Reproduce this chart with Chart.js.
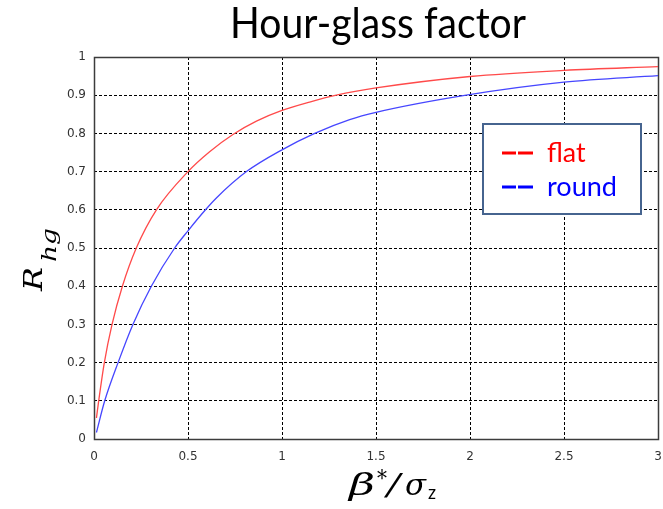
<!DOCTYPE html>
<html>
<head>
<meta charset="utf-8">
<script src="https://cdn.jsdelivr.net/npm/chart.js@4.4.1/dist/chart.umd.min.js"></script>
<style>
  html, body { margin: 0; padding: 0; background: #fff; }
  #wrap { width: 663px; height: 509px; }
</style>
</head>
<body>
<div id="wrap"><canvas id="c" width="663" height="509"></canvas></div>
<script>
// Hour-glass reduction factor versus beta*/sigma_z
const chartTitle = 'Hour-glass factor';
const seriesNames = ['flat', 'round'];

const flatX = [0.013, 0.025, 0.055, 0.096, 0.151, 0.225, 0.332, 0.5, 0.615, 0.739, 0.864, 1.0, 1.147, 1.289, 1.5, 2.0, 2.5, 3.0];
const flatY = [0.055, 0.10, 0.20, 0.30, 0.40, 0.50, 0.60, 0.70, 0.752, 0.797, 0.832, 0.860, 0.882, 0.90, 0.919, 0.949, 0.965, 0.975];

const roundX = [0.013, 0.057, 0.128, 0.207, 0.305, 0.429, 0.5, 0.593, 0.651, 0.811, 1.0, 1.174, 1.36, 1.5, 1.98, 2.5, 3.0];
const roundY = [0.017, 0.10, 0.20, 0.30, 0.40, 0.50, 0.545, 0.60, 0.631, 0.70, 0.757, 0.80, 0.836, 0.855, 0.90, 0.934, 0.951];

const xTicks = [0, 0.5, 1, 1.5, 2, 2.5, 3];
const yTicks = [0, 0.1, 0.2, 0.3, 0.4, 0.5, 0.6, 0.7, 0.8, 0.9, 1];

const toPoints = (xs, ys) => xs.map((x, i) => ({ x: x, y: ys[i] }));
const fmt = v => String(+Number(v).toFixed(2));

const lineColors = ['#ff4a4a', '#4646ff'];
const textColors = ['#ff0000', '#0000ff'];

// Draws a string stretched or squeezed along its baseline to a given width
function fitText(ctx, text, x, y, width) {
  const w = ctx.measureText(text).width;
  ctx.save();
  ctx.translate(x, y);
  ctx.scale(width / w, 1);
  ctx.fillText(text, 0, 0);
  ctx.restore();
}

const mathFont = (size) => `italic ${size}px "DejaVu Serif"`;

const decorations = {
  id: 'decorations',
  beforeDatasetsDraw(chart) {
    const { ctx, chartArea: a } = chart;
    ctx.save();
    ctx.strokeStyle = '#3c3c3c';
    ctx.lineWidth = 1.5;
    ctx.setLineDash([]);
    ctx.strokeRect(a.left + 0.5, a.top + 0.5, a.right - a.left, a.bottom - a.top);
    ctx.restore();
  },
  afterDraw(chart) {
    const { ctx } = chart;
    ctx.save();
    ctx.fillStyle = '#000';
    ctx.textBaseline = 'alphabetic';
    ctx.textAlign = 'left';

    // title
    ctx.font = '42px Lato';
    fitText(ctx, chartTitle, 230, 38, 296);

    // y axis title: R with subscript hg, rotated
    ctx.save();
    ctx.translate(42, 291);
    ctx.rotate(-Math.PI / 2);
    ctx.font = mathFont(26);
    fitText(ctx, 'R', 0, 0, 24);
    ctx.font = mathFont(21);
    fitText(ctx, 'hg', 29, 14, 34);
    ctx.restore();

    // x axis title: beta*/sigma_z
    const base = 495;
    ctx.font = mathFont(30);
    fitText(ctx, '\u03B2', 349, base, 26);
    ctx.font = '22px "DejaVu Serif"';
    fitText(ctx, '*', 377, base - 9, 10);
    ctx.font = mathFont(30);
    fitText(ctx, '/', 387, base, 13);
    fitText(ctx, '\u03C3', 405, base, 21);
    ctx.font = '19px Lato';
    fitText(ctx, 'z', 428, base + 4, 8);

    // legend box
    ctx.fillStyle = '#fff';
    ctx.fillRect(483, 124, 158, 90);
    ctx.strokeStyle = '#46648f';
    ctx.lineWidth = 2;
    ctx.strokeRect(483, 124, 158, 90);
    const rows = [153, 187];
    const widths = [38.6, 70];
    chart.data.datasets.forEach((ds, i) => {
      const y = rows[i];
      ctx.fillStyle = textColors[i];
      ctx.fillRect(502, y - 1.5, 14, 3);
      ctx.fillRect(518, y - 1.5, 15, 3);
      ctx.font = '27px Lato';
      fitText(ctx, ds.label, 547, y + 8.5, widths[i]);
    });
    ctx.restore();
  }
};

new Chart(document.getElementById('c'), {
  type: 'scatter',
  data: {
    datasets: [
      { label: seriesNames[0], data: toPoints(flatX, flatY), borderColor: lineColors[0] },
      { label: seriesNames[1], data: toPoints(roundX, roundY), borderColor: lineColors[1] }
    ].map(d => Object.assign(d, {
      showLine: true,
      borderWidth: 1.3,
      pointRadius: 0,
      fill: false,
      cubicInterpolationMode: 'monotone'
    }))
  },
  options: {
    responsive: false,
    animation: false,
    devicePixelRatio: 1,
    layout: { padding: { top: 57, right: 5, left: 0, bottom: 0 } },
    plugins: { legend: { display: false }, tooltip: { enabled: false } },
    scales: {
      x: {
        type: 'linear', min: 0, max: 3,
        afterFit: s => { s.height = 70; s.paddingLeft = 0; s.paddingRight = 0; },
        afterBuildTicks: s => { s.ticks = xTicks.map(v => ({ value: v })); },
        ticks: { padding: 11, color: '#333', font: { family: 'DejaVu Sans', size: 12 }, callback: fmt, maxRotation: 0 },
        grid: { color: '#000', lineWidth: 1, drawTicks: false },
        border: { display: false, dash: [3, 2] }
      },
      y: {
        type: 'linear', min: 0, max: 1,
        afterFit: s => { s.width = 94; s.paddingTop = 0; s.paddingBottom = 0; },
        afterBuildTicks: s => { s.ticks = yTicks.map(v => ({ value: v })); },
        ticks: { padding: 8, color: '#333', font: { family: 'DejaVu Sans', size: 12 }, callback: fmt },
        grid: { color: '#000', lineWidth: 1, drawTicks: false },
        border: { display: false, dash: [3, 2] }
      }
    }
  },
  plugins: [decorations]
});
</script>
</body>
</html>
